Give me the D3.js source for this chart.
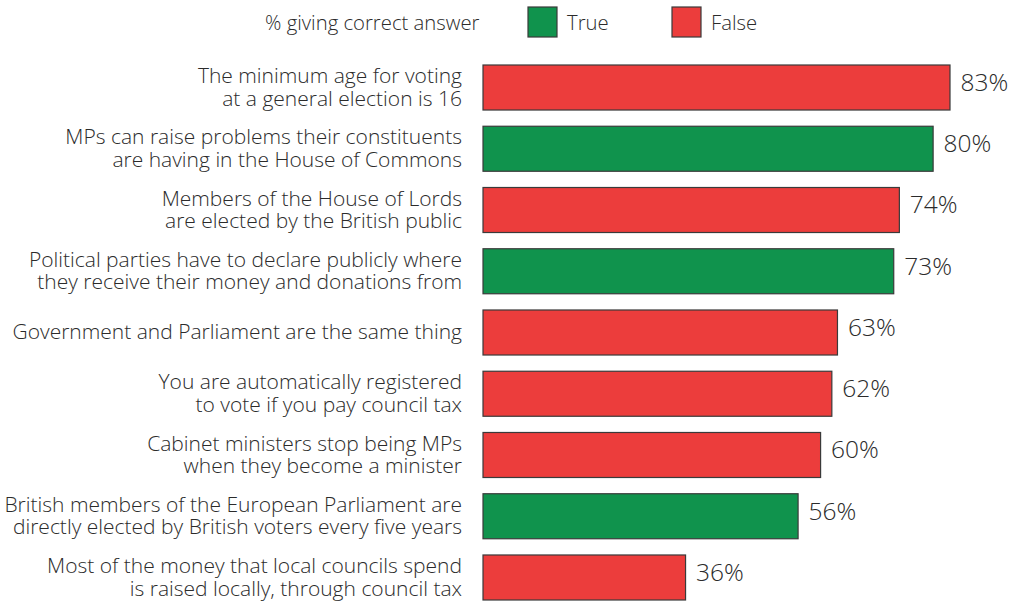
<!DOCTYPE html>
<html><head><meta charset="utf-8">
<script src="https://cdn.jsdelivr.net/npm/d3@7"></script>
<style>body{margin:0;background:#fff}svg{display:block}</style>
</head><body>
<script>
const categories = [
  ["The minimum age for voting","at a general election is 16"],
  ["MPs can raise problems their constituents","are having in the House of Commons"],
  ["Members of the House of Lords","are elected by the British public"],
  ["Political parties have to declare publicly where","they receive their money and donations from"],
  ["Government and Parliament are the same thing"],
  ["You are automatically registered","to vote if you pay council tax"],
  ["Cabinet ministers stop being MPs","when they become a minister"],
  ["British members of the European Parliament are","directly elected by British voters every five years"],
  ["Most of the money that local councils spend","is raised locally, through council tax"]
];
const values = [83, 80, 74, 73, 63, 62, 60, 56, 36];
const answers = ["False","True","False","True","False","False","False","True","False"];
const legendKeys = ["True","False"];
const legendTitle = "% giving correct answer";

const W = 1020, H = 604;
const FONT = "'Open Sans', sans-serif";
const TXT = "#2b2b2b";
const color = d3.scaleOrdinal().domain(["True","False"]).range(["#10934d","#ec3d3c"]);

const svg = d3.select("body").append("svg").attr("width", W).attr("height", H);

const x = d3.scaleLinear().domain([0, 83]).range([483, 950]);
const y = d3.scaleBand().domain(d3.range(values.length))
  .range([56.875, 608.125]).paddingInner(0.265).paddingOuter(0.1327);

const rows = svg.append("g").selectAll("g").data(values).join("g");

rows.append("rect")
  .attr("x", x(0)).attr("y", (d,i) => y(i))
  .attr("width", d => x(d) - x(0)).attr("height", y.bandwidth())
  .attr("fill", (d,i) => color(answers[i]))
  .attr("stroke", "#3a3a3a").attr("stroke-width", 1.2);

rows.append("text")
  .attr("x", d => x(d) + 10.5).attr("y", (d,i) => y(i) + y.bandwidth()/2 + 3.3)
  .attr("font-family", FONT).attr("font-weight", 300).attr("font-size", 24.5).attr("fill", TXT)
  .text(d => d + "%");

rows.append("text")
  .attr("text-anchor", "end")
  .attr("font-family", FONT).attr("font-weight", 300).attr("font-size", 21).attr("fill", TXT)
  .each(function(d, i) {
    const lines = categories[i];
    const cy = y(i) + y.bandwidth()/2;
    const lh = 22.4;
    d3.select(this).selectAll("tspan").data(lines).join("tspan")
      .attr("x", 462)
      .attr("y", (l, j) => cy + (j - (lines.length-1)/2) * lh)
      .attr("dy", "0.33em")
      .text(l => l);
  });

// legend
const lg = svg.append("g");
lg.append("text").attr("x", 265).attr("y", 22.5).attr("dy", "0.35em")
  .attr("font-family", FONT).attr("font-weight", 300).attr("font-size", 20.3).attr("fill", TXT).text(legendTitle);
const lx = {"True": 528, "False": 672};
legendKeys.forEach(k => {
  lg.append("rect").attr("x", lx[k]).attr("y", 7).attr("width", 29).attr("height", 30)
    .attr("fill", color(k)).attr("stroke", "#3a3a3a").attr("stroke-width", 1.2);
  lg.append("text").attr("x", lx[k] + 39).attr("y", 22.5).attr("dy", "0.35em")
    .attr("font-family", FONT).attr("font-weight", 300).attr("font-size", 20.3).attr("fill", TXT).text(k);
});
</script>
</body></html>
